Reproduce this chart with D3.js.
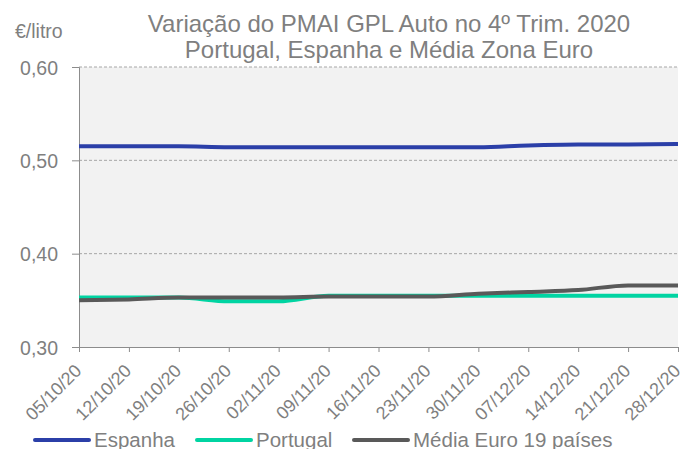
<!DOCTYPE html>
<html>
<head>
<meta charset="utf-8">
<script src="https://cdn.jsdelivr.net/npm/d3@7"></script>
<style>
  body { margin: 0; background: #fff; }
  text { font-family: "Liberation Sans", Arial, sans-serif; fill: #7f7f7f; }
</style>
</head>
<body>
<svg id="chart" width="681" height="449"></svg>
<script>
// weekly dates (4th quarter 2020)
const dates = ["05/10/20", "12/10/20", "19/10/20", "26/10/20", "02/11/20", "09/11/20", "16/11/20",
  "23/11/20", "30/11/20", "07/12/20", "14/12/20", "21/12/20", "28/12/20"];

// PMAI GPL Auto, €/litro
const espanha = [0.515, 0.515, 0.515, 0.514, 0.514, 0.514, 0.514, 0.514, 0.514, 0.516, 0.517, 0.517, 0.5175];
const portugal = [0.353, 0.353, 0.353, 0.349, 0.349, 0.355, 0.355, 0.355, 0.355, 0.355, 0.355, 0.355, 0.355];
const mediaEuro = [0.350, 0.351, 0.353, 0.353, 0.353, 0.354, 0.354, 0.354, 0.357, 0.359, 0.361, 0.366, 0.366];

const yTicks = [0.30, 0.40, 0.50, 0.60];

const series = [
  { name: "Espanha", values: espanha, color: "#2b3fa8" },
  { name: "Portugal", values: portugal, color: "#00d4a2" },
  { name: "Média Euro 19 países", values: mediaEuro, color: "#595959" }
];

const svg = d3.select("#chart");
const margin = { top: 67, right: 3, bottom: 102, left: 79 };
const width = 681 - margin.left - margin.right;
const height = 449 - margin.top - margin.bottom;

const x = d3.scalePoint().domain(dates).range([0, width]).padding(0);
const y = d3.scaleLinear().domain([0.30, 0.60]).range([height, 0]);
const fmt = d => d.toFixed(2).replace(".", ",");

const g = svg.append("g").attr("transform", `translate(${margin.left},${margin.top})`);

// plot background
g.append("rect")
  .attr("width", width)
  .attr("height", height)
  .attr("fill", "#f2f2f2");

// dashed gridlines
g.selectAll("line.grid")
  .data(yTicks.filter(t => t > 0.30))
  .enter()
  .append("line")
  .attr("class", "grid")
  .attr("x1", 0)
  .attr("x2", width)
  .attr("y1", d => y(d))
  .attr("y2", d => y(d))
  .attr("stroke", "#a6a6a6")
  .attr("stroke-width", 1)
  .attr("stroke-dasharray", "3,2");

// y axis
const yAxis = g.append("g")
  .call(d3.axisLeft(y).tickValues(yTicks).tickFormat(fmt).tickSize(7).tickPadding(14));
yAxis.select(".domain").attr("stroke", "#8c8c8c");
yAxis.selectAll(".tick line").attr("stroke", "#8c8c8c");
yAxis.selectAll("text")
  .style("font-size", "19.5px")
  .attr("fill", "#7f7f7f")
  .attr("dy", "0.36em");

// x axis
const xAxis = g.append("g")
  .attr("transform", `translate(0,${height})`)
  .call(d3.axisBottom(x).tickSize(5).tickSizeOuter(0));
xAxis.select(".domain").attr("stroke", "#8c8c8c");
xAxis.selectAll(".tick line").attr("stroke", "#8c8c8c");
xAxis.selectAll("text")
  .style("font-size", "18px")
  .attr("fill", "#7f7f7f")
  .attr("text-anchor", "end")
  .attr("dy", 0)
  .attr("y", 0)
  .attr("x", 0)
  .attr("transform", "translate(3,25) rotate(-45)");

// lines
const line = d3.line()
  .x((d, i) => x(dates[i]))
  .y(d => y(d))
  .curve(d3.curveMonotoneX);

g.selectAll("path.serie")
  .data(series)
  .enter()
  .append("path")
  .attr("class", "serie")
  .attr("d", d => line(d.values))
  .attr("fill", "none")
  .attr("stroke", d => d.color)
  .attr("stroke-width", 4)
  .attr("stroke-linejoin", "round");

// titles
const title = svg.append("text")
  .attr("x", 389)
  .attr("text-anchor", "middle")
  .style("font-size", "24px");
title.append("tspan").attr("x", 389).attr("y", 32).text("Variação do PMAI GPL Auto no 4º Trim. 2020");
title.append("tspan").attr("x", 389).attr("y", 58).text("Portugal, Espanha e Média Zona Euro");

svg.append("text")
  .attr("x", 15)
  .attr("y", 38)
  .style("font-size", "19.5px")
  .text("€/litro");

// legend
const legendX = [35, 197, 354];
const legend = svg.selectAll("g.legend")
  .data(series)
  .enter()
  .append("g")
  .attr("class", "legend")
  .attr("transform", (d, i) => `translate(${legendX[i]},440)`);

legend.append("line")
  .attr("x1", 0)
  .attr("x2", 54)
  .attr("stroke", d => d.color)
  .attr("stroke-width", 4)
  .attr("stroke-linecap", "round");

legend.append("text")
  .attr("x", 59)
  .attr("y", 7)
  .style("font-size", "20.5px")
  .text(d => d.name);
</script>
</body>
</html>
